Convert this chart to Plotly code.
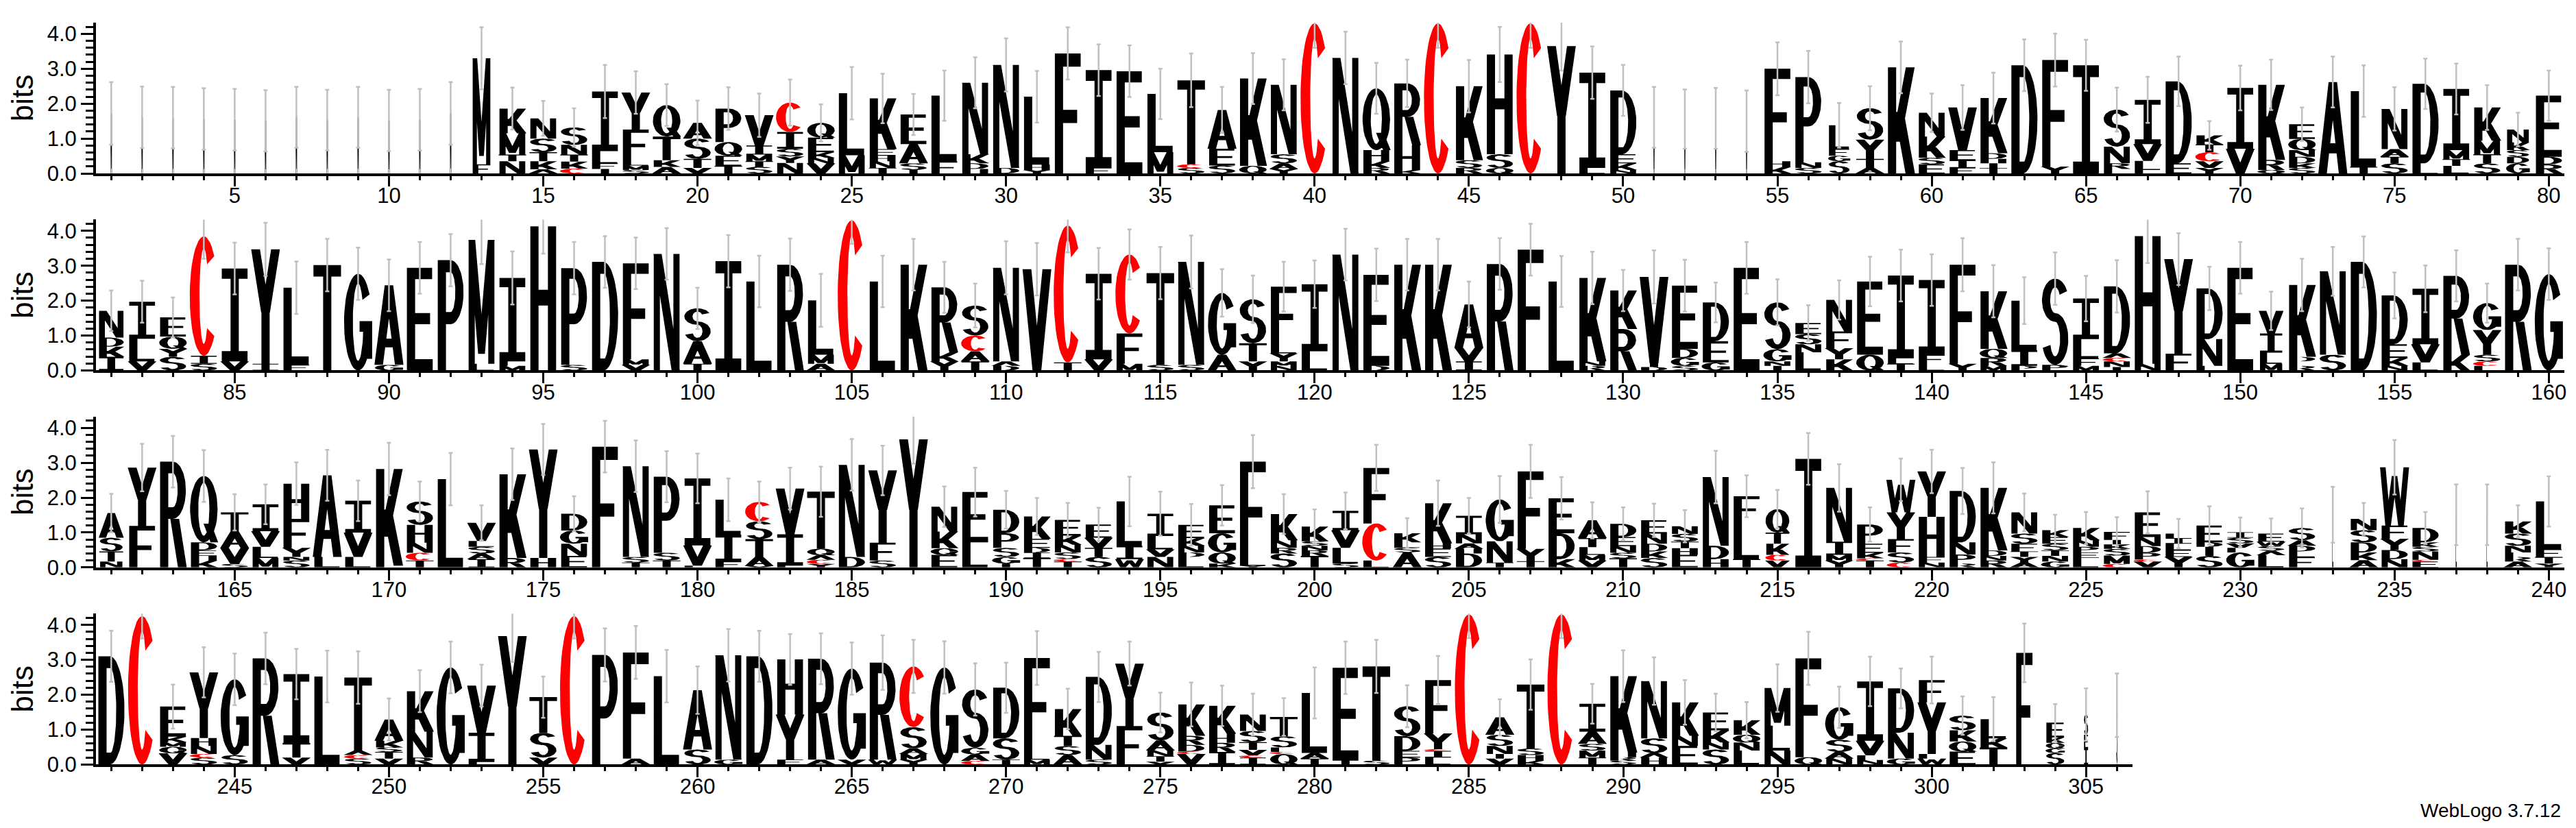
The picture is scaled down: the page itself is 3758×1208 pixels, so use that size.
from __future__ import annotations

import numpy as np
import plotly.graph_objects as go

# letter stacks, bottom -> top, "<letter><height in bits>"
row1_stacks = [
    "M1.72", "M1.61", "M1.60", "M1.56", "M1.54", "M1.51", "M1.61", "M1.53", "M1.61", "M1.52", "M1.54", "M1.72",
    "F.26 M3.04", "N.35 T.19 M.61 K.71", "A.12 K.23 T.26 S.39 N.58", "C.14 K.2 T.2 N.28 S.5",
    "T.13 F.16 L.35 I1.71", "S.1 M.13 L.16 F.87 Y1.06", "A.19 K.19 T.68 Q.9", "V.16 T.26 S.58 A.45",
    "T.22 E.29 Q.39 P.96", "S.19 T.16 M.19 I.26 V.87", "N.3 Y.19 S.22 I.48 C.84", "V.29 N.16 K.16 E.42 Q.42",
    "M.52 L1.78", "T.16 N.19 H.16 E.19 K1.45", "I.1 S.19 A.55 E.85", "F.35 L1.88",
    "H.13 D.16 K.26 N2.05", "D.16 N2.95", "Y.1 H.15 L1.95", "F3.44",
    "F.16 I2.8", "E2.93", "M.61 L1.67", "S.16 C.1 T2.41",
    "S.23 E.48 A1.11", "Q.22 K2.5", "Y.13 A.16 S.26 N1.99", "C4.3",
    "N3.31", "R.16 K.19 H.32 Q1.77", "K.1 H.71 R1.77", "C4.3",
    "R.16 S.22 K2.12", "Q.16 S.39 H2.86", "C4.3", "Y3.65",
    "L.16 I2.73", "N.1 K.19 E.26 D1.83", "M1.61", "M1.56", "M1.58", "M1.5",
    "K.19 H.16 F2.65", "S.16 N.16 P2.44", "S.35 G.16 F.19 L.68", "A.16 T.26 Y.55 S.9",
    "K3.04", "E.26 S.19 K.61 N.68", "F.16 I.22 E.29 V1.22", "T.16 I.13 H.13 D.16 K1.58",
    "D3.1", "Y.2 F3.05", "I3.1", "F.13 R.16 N.48 S1.06",
    "F.1 L.26 V.48 I1.27", "E.29 D2.35", "Y.16 V.19 C.26 T.22 K.26", "V.71 I1.74",
    "Q.1 R.29 K2.15", "S.16 K.13 D.19 N.19 Q.32 E.42", "A2.62", "T.19 L2.17",
    "S.29 T.19 A.22 N1.15", "L.16 E.13 D2.28", "L.22 T.19 M.26 I1.75", "S.29 T.26 M.39 K.95",
    "G.29 D.19 S.19 K.22 N.37", "R.26 D.22 E1.75",
]
row1_err = [
    .9, .88, .88, .88, .88, .88, .87, .87, .87, .88, .88, .9,
    .89, .6, .5, .55, .76, .61, .6, .64, .61, .62, .66, .53, .75, .71, .59, .72, .73, .76,
    .74, .75, .74, .74, .72, .77, .66, .73, .73, .7, .75, .73, .68, .7, .75, .79, .7, .7,
    .75, .73, .87, .85, .87, .88, .76, .75, .64, .63, .74, .55, .64, .73, .74, .76, .73, .63,
    .66, .71, .41, .64, .72, .48, .73, .74, .62, .72, .73, .64, .48, .72,
]

row2_stacks = [
    "I.39 K.29 D.26 N.77", "V.26 L.65 I1.06", "S.39 Y.23 Q.35 E.55", "S.19 I.23 C3.42",
    "V.26 I2.66", "I.19 Y3.28", "F.16 L2.21", "T3.02",
    "G2.77", "G.16 A2.28", "E2.94", "P3.16",
    "L.19 M3.55", "M.13 L.13 I2.39", "H4.13", "S.16 P2.77",
    "D3.11", "V.16 M.16 F2.75", "N3.34", "T.19 A.65 S.94",
    "I3.13", "L2.55", "R3.03", "A.19 M.26 L1.56",
    "C4.3", "L2.55", "K3.03", "Y.26 K.26 R1.86",
    "T.26 A.29 C.45 S.86", "D.13 A.13 N2.68", "V2.9", "T.23 C3.92",
    "V.32 I2.45", "M.19 F.87 C2.26", "S.16 T2.63", "S.16 N2.95",
    "A.45 G1.77", "Y.26 T.52 S1.26", "N.13 M.13 Y.23 L.26 F1.65", "L.55 I1.92",
    "N3.32", "D.13 E2.61", "K3.03", "K3.03",
    "I.26 V.39 A1.24", "R3.05", "F3.46", "L2.55",
    "R.13 N.13 K2.39", "R1.19 K1.1", "D.1 I.1 V2.48", "S.13 G.23 D.26 E1.81",
    "G.23 E.61 D1.11", "E2.94", "T.13 N.13 G.35 S1.34", "L.52 N.23 S.29 E.32",
    "K.32 Y.32 F.48 N.9", "Q.45 E2.1", "T.19 L.16 I2.37", "L.19 F.26 I2.14",
    "Y.19 F2.84", "M.13 R.23 Q.26 K1.65", "P.13 I.45 L1.42", "P.16 S2.47",
    "M.13 F.22 L.55 I1.16", "T.1 N.16 C.1 A.13 D1.92", "N.19 H3.66", "F.48 Y2.71",
    "E.13 N.77 D1.45", "E2.94", "M.19 L.32 I.55 V.65", "R.13 E.13 D.13 K2.06",
    "S.45 N2.39", "D3.11", "N.13 K.23 E.39 D1.4", "L.23 V.52 I1.59",
    "K.45 R2.26", "F.13 C.13 S.19 Y.71 G.77", "R3.03", "G2.76",
]
row2_err = [
    .58, .6, .57, .64, .74, .76, .75, .75, .75, .74, .74, .75, .69, .76, .78, .75, .74, .74, .74, .59,
    .75, .74, .75, .76, .67, .74, .74, .73, .63, .76, .75, .77, .74, .72, .75, .76, .68, .68, .71, .68,
    .74, .75, .74, .74, .66, .74, .74, .73, .75, .59, .76, .74, .57, .74, .66, .51, .56, .71, .74, .74,
    .76, .75, .67, .75, .65, .75, .77, .74, .62, .74, .55, .75, .7, .73, .66, .67, .73, .56, .74, .74,
]

row3_stacks = [
    "N.17 T.29 S.39 A.71", "F1.19 Y1.67", "R3.03", "K.2 H.13 E.16 D.23 Q1.9",
    "S.1 V.45 A.48 T.55", "M.27 L.32 V.45 I.77", "S.2 N.1 Y.26 F.83 H1.01", "L.3 A2.34",
    "L.3 V.7 I.91", "L.05 K2.77", "T.2 C.22 N.29 H.51 S.67", "L2.53",
    "I.24 A.16 S.19 L.17 V.52", "R.27 K2.4", "H.27 Y3.11", "E.33 N.35 G.38 D.48",
    "F3.46", "T.14 S.16 N2.6", "T.2 S.22 P2.18", "L.05 V.58 I1.92",
    "F.17 I.77 L1.0", "V.04 A.26 T.51 S.51 C.56", "L.05 I.9 V1.31", "Y.1 C.12 A.13 Q.19 T1.63",
    "D.3 N2.64", "S.2 F.51 Y2.07", "Y3.67", "E.36 Q.19 K.48 N.71",
    "L.72 E1.44", "T.11 G.19 S.26 P.42 D.67", "T.27 I.16 D.13 E.26 K.64", "T.17 C.07 S.19 N.22 K.26 E.45",
    "S.3 T.26 V.29 E.38", "W.24 I.38 L1.27", "N.3 V.22 L.38 I.64", "L.3 D.13 N.19 K.22 E.38",
    "K.11 Q.32 G.55 E.8", "Y.05 L.22 F2.76", "S.4 R.16 N.22 K.75", "T.33 R.16 N.13 S.13 K.42",
    "S.11 L.45 V.51 I.55", "L.2 C1.06 F1.59", "A.43 S.13 L.16 K.26", "S.3 E.24 H.15 K1.15",
    "D.4 H.13 A.16 N.26 I.53", "T.14 N.61 G1.2", "T.18 Y.35 F2.22", "K.24 D.74 E1.0",
    "V.2 M.16 L.22 T.26 A.51", "T.26 S.16 N.19 E.26 D.38", "S.27 K.19 D.22 N.29 E.38", "E.36 H.19 T.19 S.22 N.22",
    "H.24 D.38 N1.97", "T.24 L1.06 F.74", "V.2 C.16 K.32 T.32 Q.67", "I3.11",
    "Y.2 M.16 I.38 N1.54", "T.2 C.06 K.16 E.26 P.55", "C.14 S.29 F.38 Y.77 W.93", "N.14 F.16 H1.15 Y1.3",
    "R.11 P.26 N.35 D1.47", "R.2 N.13 D.16 K1.79", "A.14 Y.16 T.16 F.22 S.29 N.61", "G.17 N.16 T.16 S.19 E.19 K.2",
    "L.27 E.16 P.16 N.19 K.35", "C.1 M.24 S.19 K.13 I.13 F.23", "V.17 C.06 P.19 D.19 N.26 E.71", "Y.3 E.2 L.18 I.16 F.13",
    "S.33 T.13 I.13 D.13 E.48", "G.43 E.13 V.13 S.16 I.16", "L.35 A.13 S.13 W.13 E.23", "F.3 L.16 D.16 A.16 S.35",
    "L1.51", "A.21 K.22 D.29 S.35 N.32", "N.24 D.26 Y.32 F.38 W1.67", "E.17 C.05 N.24 S.13 K.13 D.41",
    "L1.51", "L1.51", "A.17 R.13 E.13 N.19 S.35 K.35", "Y.11 T.19 F.22 L1.37",
]
row3_err = [
    .55, .68, .74, .74, .52, .57, .61, .73, .58, .75, .57, .75, .5, .74, .73, .5, .74, .74, .73, .71,
    .61, .58, .6, .72, .74, .71, .7, .58, .7, .54, .53, .49, .48, .71, .63, .6, .58, .76, .57, .49,
    .53, .66, .43, .65, .51, .67, .76, .61, .52, .47, .48, .46, .75, .6, .55, .74, .68, .49, .61, .62,
    .66, .73, .54, .44, .46, .42, .6, .42, .55, .42, .43, .56, .8, .46, .78, .46, .87, .87, .46, .72,
]

row4_stacks = [
    "D3.1", "C4.25", "V.32 Q.19 M.13 K.16 E.86", "S.2 C.1 N.23 H.23 Y1.88",
    "S.27 G2.17", "R3.04", "V.2 T.42 I1.97", "L2.52",
    "S.17 C.1 A.13 T2.09", "V.17 T.19 S.13 K.19 A.61", "R.2 N.74 K1.16", "G2.78",
    "L.07 I.84 V1.35", "Y3.68", "V.2 S.71 T1.02", "C4.25",
    "P3.14", "A.17 F3.04", "L2.53", "S.43 A1.7",
    "G.14 N2.99", "D3.1", "F.14 Y1.29 H1.58", "A.14 R2.89",
    "V.14 G2.61", "W.14 R2.78", "Y.14 M.16 A.16 S.61 C1.74", "G2.78",
    "C.1 A.19 G.19 S1.67", "T.14 S.61 D1.45", "M.14 L.23 F2.68", "A.27 S.26 T.29 K.77",
    "S.14 N.42 D1.95", "F1.1 Y1.79", "V.08 T.16 N.16 A.29 S.8", "V.3 C.07 D.19 R.26 K.9",
    "I.36 R.26 H.26 K.8", "I.2 C.06 V.16 T.22 S.32 N.47", "Q.3 C.06 L.13 S.32 T.55", "T.17 A.16 L1.72",
    "T.11 E2.66", "S.11 T2.7", "P.2 E.19 D.42 S.86", "L.2 I.19 C.05 Y.45 F1.53",
    "C4.3", "V.17 T.13 N.23 S.32 A.5", "K.11 H.16 S.19 T1.83", "C4.3",
    "T.2 M.2 S.19 A.35 I.8", "S.11 R.1 H.13 K2.19", "H.2 A.13 S.42 N1.64", "E.53 N.29 K.96",
    "S.43 N.2 K.35 E.51", "L.4 N.23 Q.22 K.42", "N.4 L.71 M1.08", "Q.21 F2.83",
    "N.17 A.19 S.35 G.93", "N.13 L.13 V.42 I1.7", "G.17 N.74 D1.27", "W.17 L.13 Y1.48 F.64",
    "E.37 Q.29 K.32 S.42", "T.49 K.26 L.55", "F3.2", "S.33 G.13 Q.16 K.16 E.42",
    "I.46 E.39 S.58", "S1.6 C.1",
]
row4_err = [
    .73, .64, .63, .72, .74, .74, .72, .74, .75, .6, .6, .74, .6, .74, .59, .64, .76, .76, .75, .68,
    .75, .73, .73, .73, .75, .78, .76, .75, .75, .72, .77, .58, .72, .63, .57, .63, .58, .6, .54, .73,
    .75, .76, .6, .69, .68, .52, .72, .68, .57, .74, .68, .64, .54, .52, .68, .76, .59, .71, .57, .67,
    .55, .63, .84, .53, .75, .91,
]

row_starts = [1, 81, 161, 241]
row_ends = [80, 160, 240, 306]

# columns drawn narrower than a full stack (fraction of column width)
narrow_cols = {
    1: .05, 2: .05, 3: .05, 4: .05, 5: .05, 6: .05, 7: .05, 8: .05, 9: .05, 10: .05, 11: .05, 12: .05,
    13: .65, 51: .04, 52: .04, 53: .04, 54: .04, 57: .75, 79: .8,
    81: .9, 151: .82, 161: .82, 215: .82, 233: .04, 237: .04, 238: .04,
    303: .6, 304: .65, 305: .15, 306: .05,
}

SW = 0.28
BH = 0.11


def rect(x0, y0, x1, y1):
    return [(x0, y0), (x1, y0), (x1, y1), (x0, y1)]


def slant(x0, y0, x1, y1, w):
    return [(x0 - w / 2, y0), (x0 + w / 2, y0), (x1 + w / 2, y1), (x1 - w / 2, y1)]


def arc(cx, cy, rx, ry, a0, a1, tx=0.28, ty=0.1, n=40):
    t = np.radians(np.linspace(a0, a1, n))
    outer = list(zip(cx + rx * np.cos(t), cy + ry * np.sin(t)))
    ti = t[::-1]
    inner = list(zip(cx + (rx - tx) * np.cos(ti), cy + (ry - ty) * np.sin(ti)))
    return outer + inner


def bowl(cy, ry):
    return [rect(0.06, 1 - BH, 0.5, 1), rect(0.06, cy - ry, 0.5, cy - ry + BH),
            arc(0.5, cy, 0.44, ry, -90, 90, ty=BH)]


GLYPHS = {
    "A": [slant(0.15, 0, 0.5, 1, 0.29), slant(0.85, 0, 0.5, 1, 0.29), rect(0.25, 0.22, 0.75, 0.33)],
    "C": [arc(0.5, 0.5, 0.48, 0.5, 42, 318, tx=0.33, ty=0.1)],
    "D": [rect(0.06, 0, 0.06 + SW, 1), rect(0.06, 0, 0.5, BH), rect(0.06, 1 - BH, 0.5, 1),
          arc(0.45, 0.5, 0.5, 0.5, -90, 90)],
    "E": [rect(0.06, 0, 0.06 + SW, 1), rect(0.06, 0, 0.94, BH), rect(0.06, 0.45, 0.85, 0.45 + BH),
          rect(0.06, 1 - BH, 0.92, 1)],
    "F": [rect(0.06, 0, 0.06 + SW, 1), rect(0.06, 0.42, 0.82, 0.42 + BH), rect(0.06, 1 - BH, 0.94, 1)],
    "G": [arc(0.5, 0.5, 0.48, 0.5, 35, 360, tx=0.3), rect(0.55, 0.4, 0.98, 0.4 + BH),
          rect(0.72, 0.12, 0.98, 0.5)],
    "H": [rect(0.06, 0, 0.06 + SW, 1), rect(0.94 - SW, 0, 0.94, 1), rect(0.06, 0.45, 0.94, 0.45 + BH)],
    "I": [rect(0.06, 0, 0.94, BH), rect(0.06, 1 - BH, 0.94, 1), rect(0.5 - SW / 2, 0, 0.5 + SW / 2, 1)],
    "K": [rect(0.06, 0, 0.06 + SW, 1), slant(0.34, 0.3, 0.82, 1.0, 0.3), slant(0.44, 0.58, 0.82, 0.0, 0.32)],
    "L": [rect(0.06, 0, 0.06 + SW, 1), rect(0.06, 0, 0.92, BH)],
    "M": [rect(0.06, 0, 0.27, 1), rect(0.73, 0, 0.94, 1), slant(0.17, 1, 0.5, 0.08, 0.23),
          slant(0.83, 1, 0.5, 0.08, 0.23)],
    "N": [rect(0.06, 0, 0.27, 1), rect(0.73, 0, 0.94, 1), slant(0.19, 1, 0.81, 0, 0.28)],
    "P": [rect(0.06, 0, 0.06 + SW, 1)] + bowl(0.71, 0.29),
    "Q": [arc(0.5, 0.5, 0.47, 0.5, 0, 360), slant(0.62, 0.28, 0.86, 0.0, 0.26)],
    "R": [rect(0.06, 0, 0.06 + SW, 1)] + bowl(0.73, 0.27) + [slant(0.56, 0.46, 0.82, 0, 0.3)],
    "S": [arc(0.5, 0.75, 0.45, 0.25, 25, 270), arc(0.5, 0.3, 0.45, 0.3, 90, -160)],
    "T": [rect(0.03, 1 - BH, 0.97, 1), rect(0.5 - SW / 2, 0, 0.5 + SW / 2, 1)],
    "V": [slant(0.16, 1, 0.5, 0, 0.3), slant(0.84, 1, 0.5, 0, 0.3)],
    "W": [slant(0.1, 1, 0.28, 0, 0.19), slant(0.5, 0.85, 0.28, 0, 0.19), slant(0.5, 0.85, 0.72, 0, 0.19),
          slant(0.9, 1, 0.72, 0, 0.19)],
    "Y": [slant(0.16, 1, 0.5, 0.45, 0.3), slant(0.84, 1, 0.5, 0.45, 0.3),
          rect(0.5 - SW / 2, 0, 0.5 + SW / 2, 0.5)],
}


def ccw(poly):
    p = np.array(poly, dtype=float)
    area = np.sum(p[:, 0] * np.roll(p[:, 1], -1) - np.roll(p[:, 0], -1) * p[:, 1])
    return p if area > 0 else p[::-1]


GLYPHS = {k: [ccw(p) for p in v] for k, v in GLYPHS.items()}


def parse(stack):
    return [(tok[0], float(tok[1:])) for tok in stack.split()]


stacks = [row1_stacks, row2_stacks, row3_stacks, row4_stacks]
errors = [row1_err, row2_err, row3_err, row4_err]

y_domains = [[0.7947, 0.9798], [0.5530, 0.7381], [0.3113, 0.4964], [0.0695, 0.2546]]
x_domains = [[0.0351, 0.9941]] * 3 + [[0.0351, 0.8263]]

fig = go.Figure()
layout = {}

for r in range(4):
    start, end = row_starts[r], row_ends[r]
    assert len(stacks[r]) == end - start + 1, (r, len(stacks[r]))
    assert len(errors[r]) == end - start + 1, (r, len(errors[r]))
    xa = "x" if r == 0 else f"x{r + 1}"
    ya = "y" if r == 0 else f"y{r + 1}"
    paths = {"black": ([], []), "red": ([], [])}
    positions, tops = [], []
    for i, st in enumerate(stacks[r]):
        pos = start + i
        w = narrow_cols.get(pos, 0.95)
        y0 = 0.0
        for letter, h in parse(st):
            color = "red" if letter == "C" else "black"
            xs, ys = paths[color]
            for poly in GLYPHS[letter]:
                xs.extend(list(pos - w / 2 + poly[:, 0] * w) + [poly[0, 0] * w + pos - w / 2, None])
                ys.extend(list(y0 + poly[:, 1] * h) + [y0 + poly[0, 1] * h, None])
            y0 += h
        positions.append(pos)
        tops.append(y0)

    for color, (xs, ys) in paths.items():
        fig.add_trace(go.Scatter(
            x=xs, y=ys, mode="lines", fill="toself",
            fillcolor="#ff0000" if color == "red" else "#000000",
            line=dict(width=0, color="#ff0000" if color == "red" else "#000000"),
            hoverinfo="skip", showlegend=False, xaxis=xa, yaxis=ya,
        ))

    fig.add_trace(go.Scatter(
        x=positions, y=tops, mode="markers",
        marker=dict(size=1, color="rgba(0,0,0,0)"),
        error_y=dict(type="data", array=errors[r], color="#c0c0c0", thickness=2.5, width=3),
        hoverinfo="skip", showlegend=False, xaxis=xa, yaxis=ya,
    ))

    key_x = "xaxis" if r == 0 else f"xaxis{r + 1}"
    key_y = "yaxis" if r == 0 else f"yaxis{r + 1}"
    layout[key_x] = dict(
        domain=x_domains[r], anchor=ya, range=[start - 0.5, end + 0.5],
        tick0=0, dtick=5, ticks="outside", ticklen=15, tickwidth=3, tickcolor="black",
        minor=dict(tick0=0, dtick=1, ticks="outside", ticklen=6, tickwidth=3, tickcolor="black"),
        showline=True, linewidth=3.5, linecolor="black", showgrid=False, zeroline=False,
        ticklabelstandoff=-13,
        tickfont=dict(family="Liberation Sans, Arial, sans-serif", size=31, color="black"),
        fixedrange=True,
    )
    layout[key_y] = dict(
        domain=y_domains[r], anchor=xa, range=[0, 4.3219],
        tick0=0, dtick=1, tickformat=".1f", ticks="outside", ticklen=18, tickwidth=3, tickcolor="black",
        minor=dict(tick0=0, dtick=0.2, ticks="outside", ticklen=11, tickwidth=3, tickcolor="black"),
        showline=True, linewidth=3.5, linecolor="black", showgrid=False, zeroline=False,
        tickfont=dict(family="Liberation Sans, Arial, sans-serif", size=31, color="black"),
        title=dict(text="bits", standoff=8,
                   font=dict(family="Liberation Sans Narrow, Liberation Sans, Arial", size=44, color="black")),
        fixedrange=True,
    )

fig.update_layout(
    width=3758, height=1208,
    margin=dict(l=0, r=0, t=0, b=0),
    paper_bgcolor="white", plot_bgcolor="white",
    showlegend=False,
    **layout,
)

fig.add_annotation(
    text="WebLogo 3.7.12", xref="paper", yref="paper", x=0.9934, y=0.0132,
    xanchor="right", yanchor="middle", showarrow=False,
    font=dict(family="Liberation Sans Narrow, Liberation Sans, Arial", size=28, color="black"),
)

fig.write_html("out.html")
